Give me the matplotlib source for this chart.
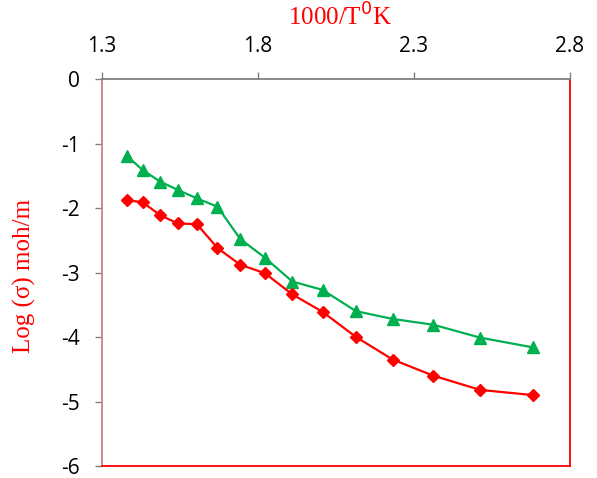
import matplotlib
matplotlib.use('Agg')
import matplotlib.pyplot as plt

# values
inv_temp = [1.379, 1.430, 1.486, 1.543, 1.604, 1.670, 1.743, 1.822,
            1.910, 2.007, 2.114, 2.232, 2.362, 2.512, 2.680]
log_sigma_green = [-1.19, -1.41, -1.59, -1.72, -1.85, -1.98, -2.48, -2.77,
                   -3.14, -3.27, -3.60, -3.72, -3.81, -4.01, -4.16]
log_sigma_red = [-1.88, -1.91, -2.11, -2.24, -2.25, -2.62, -2.88, -3.01,
                 -3.34, -3.61, -4.00, -4.35, -4.60, -4.82, -4.90]
x_ticks = [1.3, 1.8, 2.3, 2.8]
y_ticks = [0, -1, -2, -3, -4, -5, -6]

fig = plt.figure(figsize=(5.97, 4.78), dpi=100)
ax = fig.add_axes([0.1709, 0.0251, 0.7839, 0.8096])

ax.plot(inv_temp, log_sigma_green, color='#00B050', lw=1.6,
        marker='^', markersize=8, zorder=3)
ax.plot(inv_temp, log_sigma_red, color='#FF0000', lw=1.6,
        marker='D', markersize=6, zorder=3)

ax.set_xlim(1.3, 2.8)
ax.set_ylim(-6, 0)
ax.set_xticks(x_ticks)
ax.set_xticklabels(['1.3', '1.8', '2.3', '2.8'])
ax.set_yticks(y_ticks)
ax.set_yticklabels([str(v) for v in y_ticks])

# x axis on top, like the original
ax.xaxis.tick_top()
ax.xaxis.set_label_position('top')
ax.tick_params(axis='x', direction='out', length=5, width=1, color='#808080',
               pad=11, labelsize=15)
ax.tick_params(axis='y', direction='out', length=5, width=1, color='#808080',
               pad=11, labelsize=15)
for lbl in ax.get_xticklabels() + ax.get_yticklabels():
    lbl.set_fontfamily('Open Sans')

ax.spines['top'].set_color('#808080')
ax.spines['left'].set_color('#c08585')
ax.spines['right'].set_color('#FF0000')
ax.spines['bottom'].set_color('#FF0000')
for s in ax.spines.values():
    s.set_linewidth(1.3)

ax.set_xlabel('1000/T$^{0}$K', color='#FF0000', fontsize=18,
              fontfamily='Liberation Serif')
ax.set_ylabel('Log (σ) moh/m', color='#FF0000', fontsize=18,
              fontfamily='Liberation Serif')
ax.xaxis.set_label_coords(0.508, 1.16)
ax.xaxis.label.set_va('center')
ax.yaxis.set_label_coords(-0.165, 0.49)
ax.yaxis.label.set_va('center')

plt.savefig('out.png', dpi=100)
